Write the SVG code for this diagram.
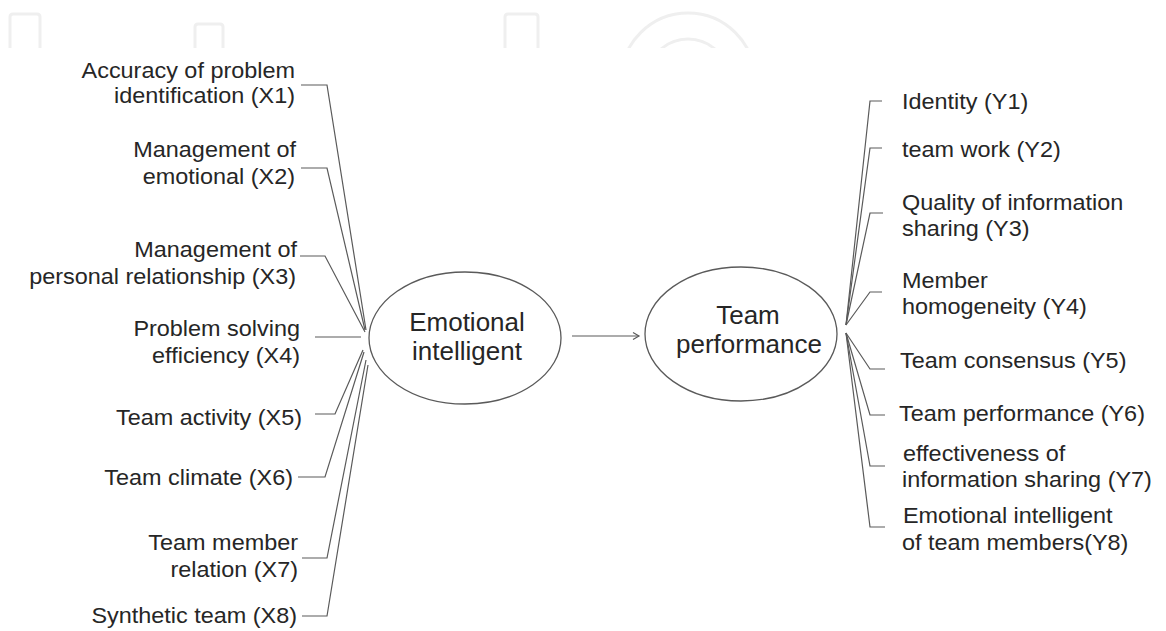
<svg xmlns="http://www.w3.org/2000/svg" width="1166" height="631" viewBox="0 0 1166 631">
<style>
.lbl{font-family:"Liberation Sans",Arial,sans-serif;font-size:21.5px;fill:#262626}
.end{text-anchor:end}
.ctr{font-family:"Liberation Sans",Arial,sans-serif;font-size:26px;fill:#262626;text-anchor:middle}
.node{fill:#fff;stroke:#5a5a5a;stroke-width:1.3}
.con{fill:none;stroke:#5a5a5a;stroke-width:1.2}
.wm{fill:none;stroke:#efefef;stroke-width:3}
</style>
<defs>
<clipPath id="wmclip"><rect x="0" y="0" width="1166" height="48"/></clipPath>
<marker id="chev" markerWidth="10" markerHeight="10" refX="8" refY="5" orient="auto" markerUnits="userSpaceOnUse">
<path d="M2,1.5 L8,5 L2,8.5" fill="none" stroke="#5a5a5a" stroke-width="1.2"/>
</marker>
</defs>
<rect width="1166" height="631" fill="#fff"/>
<g id="watermark" class="wm" clip-path="url(#wmclip)">
<path d="M10,50 V17 Q10,14 13,14 H37 Q40,14 40,17 V50"/>
<path d="M195,50 V27 Q195,24 198,24 H220 Q223,24 223,27 V50"/>
<path d="M505,50 V17 Q505,14 508,14 H535 Q538,14 538,17 V50"/>
<circle cx="688" cy="80" r="67"/>
<circle cx="688" cy="80" r="41"/>
</g>
<g id="connectors" class="con">
<polyline points="301,85 327,85 366,330"/>
<polyline points="301,168 327,168 365,330"/>
<polyline points="300,256 325,256 365,332"/>
<line x1="315" y1="337" x2="361" y2="337"/>
<polyline points="315,414 335,414 363,350"/>
<polyline points="298,477 325,477 364,352"/>
<polyline points="302,558 327,558 366,360"/>
<polyline points="302,616 327,616 368,365"/>
<polyline points="882,101 870,101 846,325"/>
<polyline points="882,148 870,148 846,325"/>
<polyline points="883,213 870,213 846,325"/>
<polyline points="882,292 870,292 846,325"/>
<polyline points="885,369 870,369 846,333"/>
<polyline points="885,415 870,415 846,333"/>
<polyline points="885,466 870,466 846,333"/>
<polyline points="885,527 870,527 846,333"/>
<line x1="572" y1="336" x2="639" y2="336" marker-end="url(#chev)"/>
</g>
<g id="emotional-intelligent">
<ellipse class="node" cx="465" cy="338" rx="96" ry="66"/>
<text class="ctr" x="467" y="331">Emotional</text>
<text class="ctr" x="467" y="360">intelligent</text>
</g>
<g id="team-performance">
<ellipse class="node" cx="741" cy="334" rx="96" ry="67"/>
<text class="ctr" x="748" y="324">Team</text>
<text class="ctr" x="749" y="353">performance</text>
</g>
<g id="x1"><text class="lbl end" transform="translate(295,78) scale(1.09,1)">Accuracy of problem</text><text class="lbl end" transform="translate(295,103) scale(1.09,1)">identification (X1)</text></g>
<g id="x2"><text class="lbl end" transform="translate(296,157) scale(1.09,1)">Management of</text><text class="lbl end" transform="translate(295,184) scale(1.09,1)">emotional (X2)</text></g>
<g id="x3"><text class="lbl end" transform="translate(297,257) scale(1.09,1)">Management of</text><text class="lbl end" transform="translate(296,284) scale(1.09,1)">personal relationship (X3)</text></g>
<g id="x4"><text class="lbl end" transform="translate(300,336) scale(1.09,1)">Problem solving</text><text class="lbl end" transform="translate(300,363) scale(1.09,1)">efficiency (X4)</text></g>
<g id="x5"><text class="lbl end" transform="translate(302,425) scale(1.09,1)">Team activity (X5)</text></g>
<g id="x6"><text class="lbl end" transform="translate(293,485) scale(1.09,1)">Team climate (X6)</text></g>
<g id="x7"><text class="lbl end" transform="translate(298,550) scale(1.09,1)">Team member</text><text class="lbl end" transform="translate(298,577) scale(1.09,1)">relation (X7)</text></g>
<g id="x8"><text class="lbl end" transform="translate(297,623) scale(1.09,1)">Synthetic team (X8)</text></g>
<g id="y1"><text class="lbl" transform="translate(902,109) scale(1.09,1)">Identity (Y1)</text></g>
<g id="y2"><text class="lbl" transform="translate(902,157) scale(1.09,1)">team work (Y2)</text></g>
<g id="y3"><text class="lbl" transform="translate(902,210) scale(1.09,1)">Quality of information</text><text class="lbl" transform="translate(902,236) scale(1.09,1)">sharing (Y3)</text></g>
<g id="y4"><text class="lbl" transform="translate(902,288) scale(1.09,1)">Member</text><text class="lbl" transform="translate(902,314) scale(1.09,1)">homogeneity (Y4)</text></g>
<g id="y5"><text class="lbl" transform="translate(900,368) scale(1.09,1)">Team consensus (Y5)</text></g>
<g id="y6"><text class="lbl" transform="translate(899,421) scale(1.09,1)">Team performance (Y6)</text></g>
<g id="y7"><text class="lbl" transform="translate(903,461) scale(1.09,1)">effectiveness of</text><text class="lbl" transform="translate(902,487) scale(1.09,1)">information sharing (Y7)</text></g>
<g id="y8"><text class="lbl" transform="translate(903,523) scale(1.09,1)">Emotional intelligent</text><text class="lbl" transform="translate(902,550) scale(1.09,1)">of team members(Y8)</text></g>
</svg>
